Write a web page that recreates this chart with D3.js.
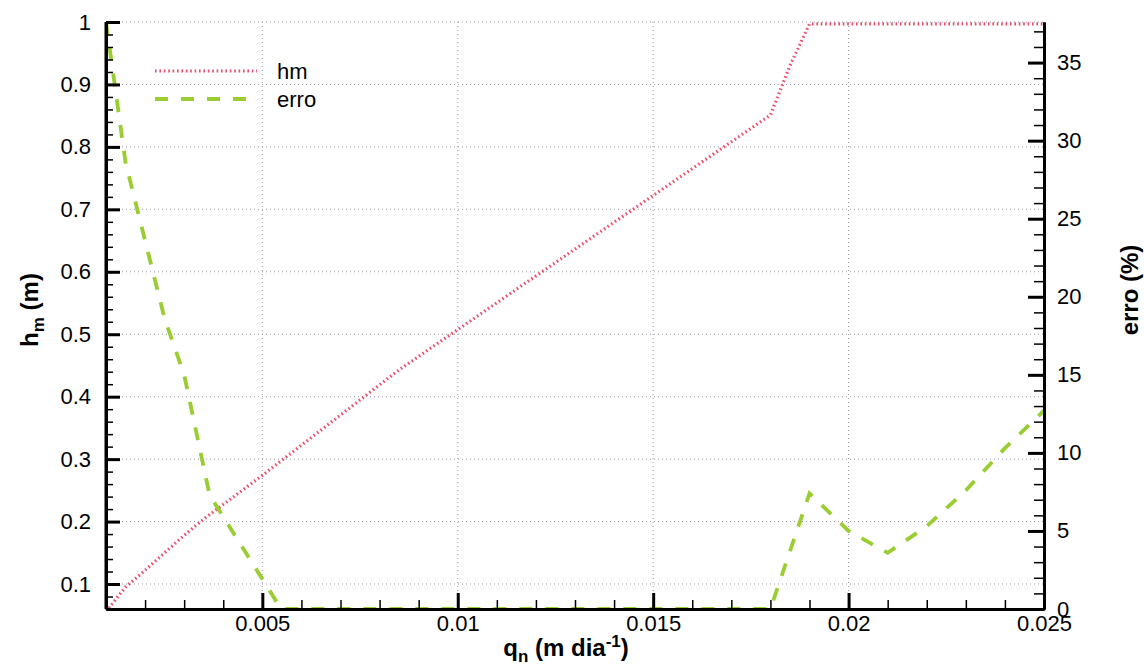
<!DOCTYPE html>
<html>
<head>
<meta charset="utf-8">
<script src="https://cdn.jsdelivr.net/npm/d3@7"></script>
<style>
  html, body { margin: 0; padding: 0; background: #fff; }
  svg { display: block; font-family: "Liberation Sans", Arial, sans-serif; }
</style>
</head>
<body>
<svg id="chart"></svg>
<script>
// data
var qn    = [0.001, 0.0015, 0.002, 0.0025, 0.003, 0.0035, 0.005, 0.0085, 0.018, 0.0185, 0.019, 0.025];
var hm    = [0.056, 0.095, 0.122, 0.150, 0.178, 0.204, 0.274, 0.443, 0.851, 0.930, 0.997, 0.997];
var qnErr = [0.001, 0.0015, 0.002, 0.0025, 0.003, 0.00365, 0.00548, 0.018, 0.019, 0.02, 0.021, 0.022, 0.023, 0.024, 0.025];
var erro  = [37.6, 28.6, 23.6, 18.6, 15.0, 7.3, 0, 0, 7.4, 5.0, 3.6, 5.3, 7.6, 10.3, 12.7];

var xTicks = [0.005, 0.01, 0.015, 0.02, 0.025];
var xLabels = ["0.005", "0.01", "0.015", "0.02", "0.025"];
var yTicks = [0.1, 0.2, 0.3, 0.4, 0.5, 0.6, 0.7, 0.8, 0.9, 1];
var yLabels = ["0.1", "0.2", "0.3", "0.4", "0.5", "0.6", "0.7", "0.8", "0.9", "1"];
var y2Ticks = [0, 5, 10, 15, 20, 25, 30, 35];
var y2Labels = ["0", "5", "10", "15", "20", "25", "30", "35"];
var seriesNames = ["hm", "erro"];

var svgWidth = 1144, svgHeight = 666;
var margin = { top: 22, right: 100, bottom: 57, left: 106 };
var width = svgWidth - margin.left - margin.right;
var height = svgHeight - margin.top - margin.bottom;

var svg = d3.select("#chart")
    .attr("width", svgWidth)
    .attr("height", svgHeight);

svg.append("rect")
    .attr("width", "100%")
    .attr("height", "100%")
    .attr("fill", "white");

var g = svg.append("g")
    .attr("transform", "translate(" + margin.left + "," + margin.top + ")");

var x = d3.scaleLinear().domain([0.001, 0.025]).range([0, width]);
var y = d3.scaleLinear().domain([0.06, 1]).range([height, 0]);
var y2 = d3.scaleLinear().domain([0, 37.6]).range([height, 0]);

g.append("clipPath").attr("id", "clip")
    .append("rect").attr("width", width).attr("height", height + 1);

// grid
var grid = g.append("g")
    .attr("stroke", "#9a98a8")
    .attr("stroke-width", 1)
    .attr("stroke-dasharray", "1,3");
grid.selectAll(".gx").data(xTicks.slice(0, -1)).enter().append("line")
    .attr("x1", function(d) { return x(d); }).attr("x2", function(d) { return x(d); })
    .attr("y1", 0).attr("y2", height);
grid.selectAll(".gy").data(yTicks).enter().append("line")
    .attr("x1", 0).attr("x2", width)
    .attr("y1", function(d) { return y(d); }).attr("y2", function(d) { return y(d); });

// lines
var hmLine = d3.line()
    .x(function(d, i) { return x(qn[i]); })
    .y(function(d) { return y(d); });
var erroLine = d3.line()
    .x(function(d, i) { return x(qnErr[i]); })
    .y(function(d) { return y2(d); });

var lines = g.append("g").attr("clip-path", "url(#clip)");
lines.append("path")
    .datum(hm)
    .attr("fill", "none")
    .attr("stroke", "#ea4e6c")
    .attr("stroke-width", 3.2)
    .attr("stroke-dasharray", "1.6,2.8")
    .attr("d", hmLine);
lines.append("path")
    .datum(erro)
    .attr("fill", "none")
    .attr("stroke", "#9acd32")
    .attr("stroke-width", 3.8)
    .attr("stroke-dasharray", "13,13")
    .attr("d", erroLine);

// axes: minor ticks first, then major with labels
function styleAxis(sel, w) {
    sel.select(".domain").attr("stroke", "#000").attr("stroke-width", 3);
    sel.selectAll(".tick line").attr("stroke", "#000").attr("stroke-width", w);
    sel.selectAll(".tick text")
        .attr("font-size", "22px")
        .attr("fill", "#000");
}

var xMinor = g.append("g")
    .attr("transform", "translate(0," + height + ")")
    .call(d3.axisBottom(x).tickValues(d3.range(1, 26).map(function(v) { return v / 1000; }))
        .tickSizeInner(-9).tickSizeOuter(0).tickFormat(""));
styleAxis(xMinor, 1.5);
var xAxis = g.append("g")
    .attr("transform", "translate(0," + height + ")")
    .call(d3.axisBottom(x).tickValues(xTicks).tickSizeInner(-16).tickSizeOuter(0)
        .tickPadding(6).tickFormat(function(d, i) { return xLabels[i]; }));
styleAxis(xAxis, 3);

var yMinor = g.append("g")
    .call(d3.axisLeft(y).tickValues(d3.range(3, 51).map(function(v) { return v / 50; }))
        .tickSizeInner(-7).tickSizeOuter(0).tickFormat(""));
styleAxis(yMinor, 1.5);
var yAxis = g.append("g")
    .call(d3.axisLeft(y).tickValues(yTicks).tickSizeInner(-14).tickSizeOuter(0)
        .tickPadding(15).tickFormat(function(d, i) { return yLabels[i]; }));
styleAxis(yAxis, 3);

var y2Minor = g.append("g")
    .attr("transform", "translate(" + width + ",0)")
    .call(d3.axisRight(y2).tickValues(d3.range(0, 38))
        .tickSizeInner(-10).tickSizeOuter(0).tickFormat(""));
styleAxis(y2Minor, 1.5);
var y2Axis = g.append("g")
    .attr("transform", "translate(" + width + ",0)")
    .call(d3.axisRight(y2).tickValues(y2Ticks).tickSizeInner(-16).tickSizeOuter(0)
        .tickPadding(13).tickFormat(function(d, i) { return y2Labels[i]; }));
styleAxis(y2Axis, 3);
// no line on top of the frame
yAxis.select(".domain").attr("d", "M0," + height + "V0");

// axis titles
var yTitle = svg.append("text")
    .attr("transform", "translate(38,310) rotate(-90)")
    .attr("text-anchor", "middle")
    .attr("font-size", "24px")
    .attr("font-weight", "bold");
yTitle.append("tspan").text("h");
yTitle.append("tspan").attr("font-size", "17px").attr("dy", 6).text("m");
yTitle.append("tspan").attr("dy", -6).text(" (m)");

var xTitle = svg.append("text")
    .attr("x", 566).attr("y", 656)
    .attr("text-anchor", "middle")
    .attr("font-size", "24px")
    .attr("font-weight", "bold");
xTitle.append("tspan").text("q");
xTitle.append("tspan").attr("font-size", "17px").attr("dy", 6).text("n");
xTitle.append("tspan").attr("dy", -6).text(" (m dia");
xTitle.append("tspan").attr("font-size", "17px").attr("dy", -9).text("-1");
xTitle.append("tspan").attr("dy", 9).text(")");

svg.append("text")
    .attr("transform", "translate(1138,290) rotate(-90)")
    .attr("text-anchor", "middle")
    .attr("font-size", "24px")
    .attr("font-weight", "bold")
    .text("erro (%)");

// legend
var legend = svg.append("g");
var legendStyles = [
    { color: "#ea4e6c", width: 3.2, dash: "1.6,2.8" },
    { color: "#9acd32", width: 3.8, dash: "13,13" }
];
seriesNames.forEach(function(name, i) {
    var ly = 71 + i * 28;
    legend.append("line")
        .attr("x1", 155).attr("x2", 257)
        .attr("y1", ly).attr("y2", ly)
        .attr("stroke", legendStyles[i].color)
        .attr("stroke-width", legendStyles[i].width)
        .attr("stroke-dasharray", legendStyles[i].dash);
    legend.append("text")
        .attr("x", 277).attr("y", ly + 8)
        .attr("font-size", "22px")
        .text(name);
});
</script>
</body>
</html>
